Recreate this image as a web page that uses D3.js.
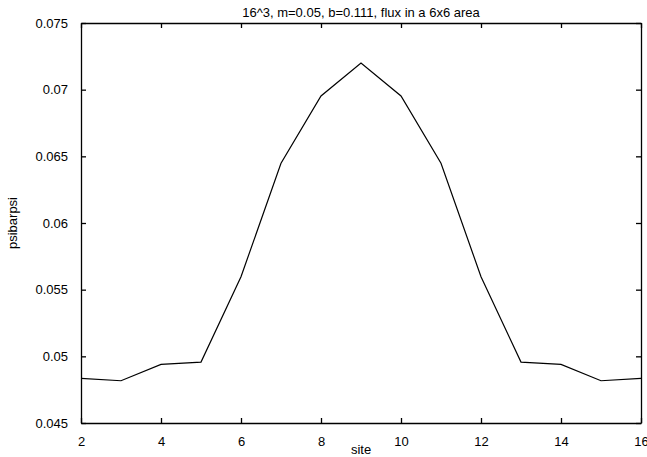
<!DOCTYPE html>
<html>
<head>
<meta charset="utf-8">
<script src="https://cdn.jsdelivr.net/npm/d3@7"></script>
<style>
  body { margin: 0; background: #fff; }
  svg { display: block; }
  text { font-family: "Liberation Sans", Arial, Helvetica, sans-serif; fill: #000; }
</style>
</head>
<body>
<svg width="647" height="457"></svg>
<script>
const width = 647,   // svg width
  height = 457;      // svg height

// values
const sites = [2, 3, 4, 5, 6, 7, 8, 9, 10, 11, 12, 13, 14, 15, 16];
const psibarpsi = [0.04835, 0.04817, 0.0494, 0.04957, 0.05597, 0.06448, 0.06953, 0.0720,
                   0.06953, 0.06448, 0.05597, 0.04957, 0.0494, 0.04817, 0.04835];
const xTicks = [2, 4, 6, 8, 10, 12, 14, 16];
const yTicks = [0.045, 0.05, 0.055, 0.06, 0.065, 0.07, 0.075];
const title = '16^3, m=0.05, b=0.111, flux in a 6x6 area';

const margin = { top: 23, right: 6, bottom: 34, left: 81 };

const svg = d3.select('svg');

const x = d3.scaleLinear().domain([2, 16]).range([margin.left, width - margin.right]);
const y = d3.scaleLinear().domain([0.045, 0.075]).range([height - margin.bottom, margin.top]);

const fmtY = d => String(+d.toFixed(3));

// bottom axis with labels, ticks pointing inward
const gx = svg.append('g')
  .attr('transform', `translate(0,${y(0.045)})`)
  .call(d3.axisBottom(x).tickValues(xTicks).tickSize(-5).tickPadding(14).tickSizeOuter(0));

// top axis, ticks only
const gxt = svg.append('g')
  .attr('transform', `translate(0,${y(0.075)})`)
  .call(d3.axisTop(x).tickValues(xTicks).tickSize(-5).tickFormat('').tickSizeOuter(0));

// left axis with labels
const gy = svg.append('g')
  .attr('transform', `translate(${x(2)},0)`)
  .call(d3.axisLeft(y).tickValues(yTicks).tickFormat(fmtY).tickSize(-5).tickPadding(13).tickSizeOuter(0));

// right axis, ticks only
const gyr = svg.append('g')
  .attr('transform', `translate(${x(16)},0)`)
  .call(d3.axisRight(y).tickValues(yTicks).tickSize(-5).tickFormat('').tickSizeOuter(0));

[gx, gxt, gy, gyr].forEach(g => {
  g.selectAll('.domain').attr('stroke', '#000').attr('stroke-width', 1.3);
  g.selectAll('.tick line').attr('stroke', '#000').attr('stroke-width', 1.3);
  g.selectAll('.tick text').style('font-size', '13px').attr('fill', '#000');
});

// the curve
svg.append('path')
  .datum(sites.map((s, i) => [s, psibarpsi[i]]))
  .attr('fill', 'none')
  .attr('stroke', '#000')
  .attr('stroke-width', 1.2)
  .attr('d', d3.line().x(d => x(d[0])).y(d => y(d[1])));

// title and axis labels
svg.append('text')
  .attr('x', (x(2) + x(16)) / 2).attr('y', 17)
  .attr('text-anchor', 'middle').style('font-size', '13px')
  .text(title);

svg.append('text')
  .attr('x', (x(2) + x(16)) / 2).attr('y', 454)
  .attr('text-anchor', 'middle').style('font-size', '13px')
  .text('site');

svg.append('text')
  .attr('transform', `translate(17,${(y(0.045) + y(0.075)) / 2}) rotate(-90)`)
  .attr('text-anchor', 'middle').style('font-size', '13px')
  .text('psibarpsi');
</script>
</body>
</html>
